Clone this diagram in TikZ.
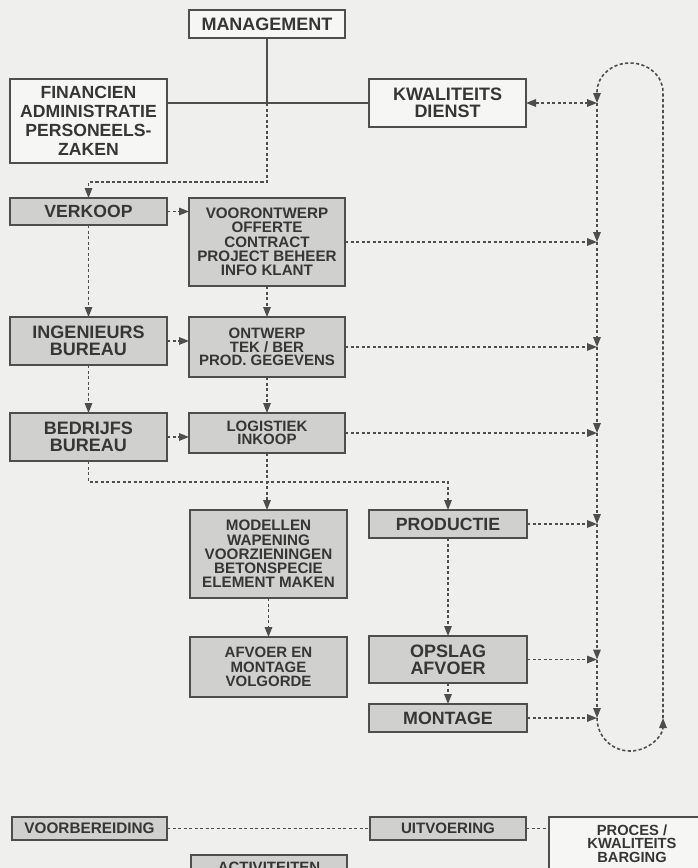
\documentclass[tikz,border=0pt]{standalone}
\usepackage{fontspec}
\setmainfont{Liberation Sans}
\usetikzlibrary{arrows.meta}

\definecolor{paper}{HTML}{EFEFED}
\definecolor{boxgray}{HTML}{D0D0CE}
\definecolor{boxlight}{HTML}{F6F6F4}
\definecolor{ink}{HTML}{363636}
\definecolor{linegray}{HTML}{4E4E4E}

\tikzset{
  box/.style={draw=linegray, line width=1.6pt, anchor=north west, inner sep=0pt,
              outer sep=0pt, align=center, text=ink},
  graybox/.style={box, fill=boxgray},
  lightbox/.style={box, fill=boxlight},
  dashline/.style={draw=linegray, line width=1.6pt, dash pattern=on 3.2pt off 2.3pt},
  solidline/.style={draw=linegray, line width=1.3pt},
  tipend/.style={-{Triangle[length=10pt,width=7.5pt]}},
  tipboth/.style={{Triangle[length=10pt,width=7.5pt]}-{Triangle[length=10pt,width=7.5pt]}},
}
\newcommand{\bsz}[2]{\bfseries\fontsize{#1}{#2}\selectfont}

\begin{document}
\begin{tikzpicture}[x=1pt, y=-1pt]
\useasboundingbox (0,0) rectangle (698,868);
\clip (0,0) rectangle (698,868);
\fill[paper] (0,0) rectangle (698,868);

% --- top: management and staff
\node[lightbox, minimum width=156pt, minimum height=28pt, font=\bsz{18}{19}] (mgmt) at (189,10) {MANAGEMENT};
\node[lightbox, minimum width=157pt, minimum height=84pt, font=\bsz{17.6}{19}] (fin) at (10,79)
  {FINANCIEN\\ADMINISTRATIE\\PERSONEELS-\\ZAKEN};
\node[lightbox, minimum width=157pt, minimum height=48pt, font=\bsz{18}{16.8}] (kwal) at (369,79)
  {KWALITEITS\\DIENST};

% --- left column
\node[graybox, minimum width=157pt, minimum height=27pt, font=\bsz{17.6}{19}] (vk) at (10,198) {VERKOOP};
\node[graybox, minimum width=157pt, minimum height=48pt, font=\bsz{18}{16.8}] (ing) at (10,317) {INGENIEURS\\BUREAU};
\node[graybox, minimum width=157pt, minimum height=48pt, font=\bsz{18}{16.8}] (bed) at (10,413) {BEDRIJFS\\BUREAU};

% --- middle column
\node[graybox, minimum width=156pt, minimum height=88pt, font=\bsz{15.2}{14.3}] (vo) at (189,198)
  {VOORONTWERP\\OFFERTE\\CONTRACT\\PROJECT BEHEER\\INFO KLANT};
\node[graybox, minimum width=156pt, minimum height=60pt, font=\bsz{15}{13.4}] (ont) at (189,317)
  {ONTWERP\\TEK / BER\\PROD. GEGEVENS};
\node[graybox, minimum width=156pt, minimum height=40pt, font=\bsz{15}{13.4}] (lg) at (189,413)
  {LOGISTIEK\\INKOOP};
\node[graybox, minimum width=157pt, minimum height=88pt, font=\bsz{15.2}{14.2}] (mod) at (190,510)
  {MODELLEN\\WAPENING\\VOORZIENINGEN\\BETONSPECIE\\ELEMENT MAKEN};
\node[graybox, minimum width=157pt, minimum height=60pt, font=\bsz{15}{14.2}] (afv) at (190,637)
  {AFVOER EN\\MONTAGE\\VOLGORDE};

% --- production column
\node[graybox, minimum width=158pt, minimum height=28pt, font=\bsz{17.7}{19}] (prod) at (369,510) {PRODUCTIE};
\node[graybox, minimum width=158pt, minimum height=47pt, font=\bsz{18}{17.3}] (ops) at (369,636) {OPSLAG\\AFVOER};
\node[graybox, minimum width=158pt, minimum height=28pt, font=\bsz{17.8}{19}] (mon) at (369,704) {MONTAGE};

% --- legend row
\node[graybox, minimum width=155pt, minimum height=23pt, font=\bsz{15.3}{17}] (vb) at (12,817) {VOORBEREIDING};
\node[graybox, minimum width=156pt, minimum height=23pt, font=\bsz{15.1}{17}] (uit) at (370,817) {UITVOERING};
\node[lightbox, minimum width=166pt, minimum height=53pt, font=\bsz{14.7}{13.5}] (proc) at (549,817)
  {PROCES /\\KWALITEITS\\BARGING};
\node[graybox, minimum width=156pt, minimum height=24pt, font=\bsz{15}{17}] (act) at (191,855) {ACTIVITEITEN};

% --- management links
\coordinate (m1) at (mgmt.south |- kwal.west);
\coordinate (m2) at (mgmt.south |- 0,182);
\draw[solidline] (fin.east |- kwal.west) -- (kwal.west);
\draw[solidline] (mgmt.south) -- (m1);
\draw[dashline, tipend] (m1) -- (m2) -| (vk.north);

% --- left column flow
\draw[dashline, tipend] (vk.south) -- (ing.north);
\draw[dashline, tipend] (ing.south) -- (bed.north);
\draw[dashline, tipend] (vk.east) -- (vk.east -| vo.west);
\draw[dashline, tipend] (ing.east) -- (ing.east -| ont.west);
\draw[dashline, tipend] (bed.east) -- (bed.east -| lg.west);

% --- middle column flow
\draw[dashline, tipend] (vo.south) -- (vo.south |- ont.north);
\draw[dashline, tipend] (ont.south) -- (ont.south |- lg.north);
\draw[dashline, tipend] (lg.south) -- (lg.south |- mod.north);
\draw[dashline, tipend] (mod.south) -- (mod.south |- afv.north);
\coordinate (b1) at (bed.south |- 0,482);
\draw[dashline, tipend] (bed.south) -- (b1) -| (prod.north);
\draw[dashline, tipend] (prod.south) -- (ops.north);
\draw[dashline, tipend] (ops.south) -- (mon.north);

% --- quality loop
\path (597,0) coordinate (loopL) (663,0) coordinate (loopR);
\coordinate (j0) at (kwal.east -| loopL);
\coordinate (j1) at (vo.east -| loopL);
\coordinate (j2) at (ont.east -| loopL);
\coordinate (j3) at (lg.east -| loopL);
\coordinate (j4) at (prod.east -| loopL);
\coordinate (j5) at (ops.east -| loopL);
\coordinate (j6) at (mon.east -| loopL);
\coordinate (rb) at (j6 -| loopR);
\coordinate (rt) at (loopR |- 0,92);

\draw[dashline, tipboth] (kwal.east) -- (j0);
\foreach \b/\j in {vo/j1, ont/j2, lg/j3, prod/j4, ops/j5, mon/j6}
  \draw[dashline, tipend] (\b.east) -- (\j);
\foreach \a/\b in {j0/j1, j1/j2, j2/j3, j3/j4, j4/j5, j5/j6}
  \draw[dashline, tipend] (\a) -- (\b);
\draw[dashline, tipend] (j6) arc[start angle=180, end angle=0, radius=33];
\draw[dashline, tipend] (rb) -- (rt) arc[start angle=0, end angle=-180, x radius=33, y radius=29] -- (j0);

% --- legend links
\draw[dashline] (vb.east) -- (vb.east -| uit.west);
\draw[dashline] (uit.east) -- (uit.east -| proc.west);
\end{tikzpicture}
\end{document}
